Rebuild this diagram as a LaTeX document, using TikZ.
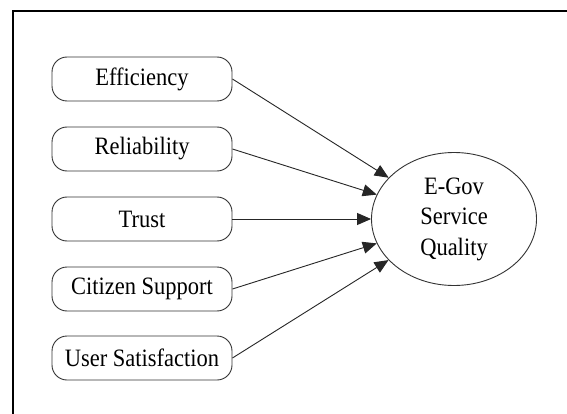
\documentclass[tikz,border=0pt]{standalone}
\usepackage{fontspec}
\setmainfont[FakeStretch=0.9]{Liberation Serif}
\usetikzlibrary{arrows.meta,shapes.geometric}
\begin{document}
\begin{tikzpicture}[x=1pt,y=-1pt,
  factor/.style={draw=black!80, line width=0.9pt, rounded corners=15pt,
    minimum width=180pt, minimum height=44pt, inner sep=0pt,
    font=\fontsize{25}{30}\selectfont},
  target/.style={ellipse, draw=black!80, line width=0.9pt,
    minimum width=165pt, minimum height=133pt, inner sep=0pt, align=center,
    font=\fontsize{25}{30.5}\selectfont},
  link/.style={draw=black!85, line width=0.9pt,
    -{Triangle[length=14pt,width=12pt]}}]
\useasboundingbox (0,0) rectangle (567,414);
\fill[white] (0,0) rectangle (567,414);
% frame edges
\draw[line width=2pt] (13,414) -- (13,11) -- (567,11);

\node[factor] (eff) at (142,79) {Efficiency};
\node[factor] (rel) at (142,149) {Reliability};
\node[factor] (tru) at (142,219) {Trust};
\node[factor] (cit) at (142,289) {Citizen Support};
\node[factor] (usr) at (142,358) {User Satisfaction};

\node[target] (egov) at (454,219) {E-Gov\\Service\\Quality};

\foreach \n in {eff,rel,tru,cit,usr}
  \draw[link] (\n.east) -- (egov);
\end{tikzpicture}
\end{document}
